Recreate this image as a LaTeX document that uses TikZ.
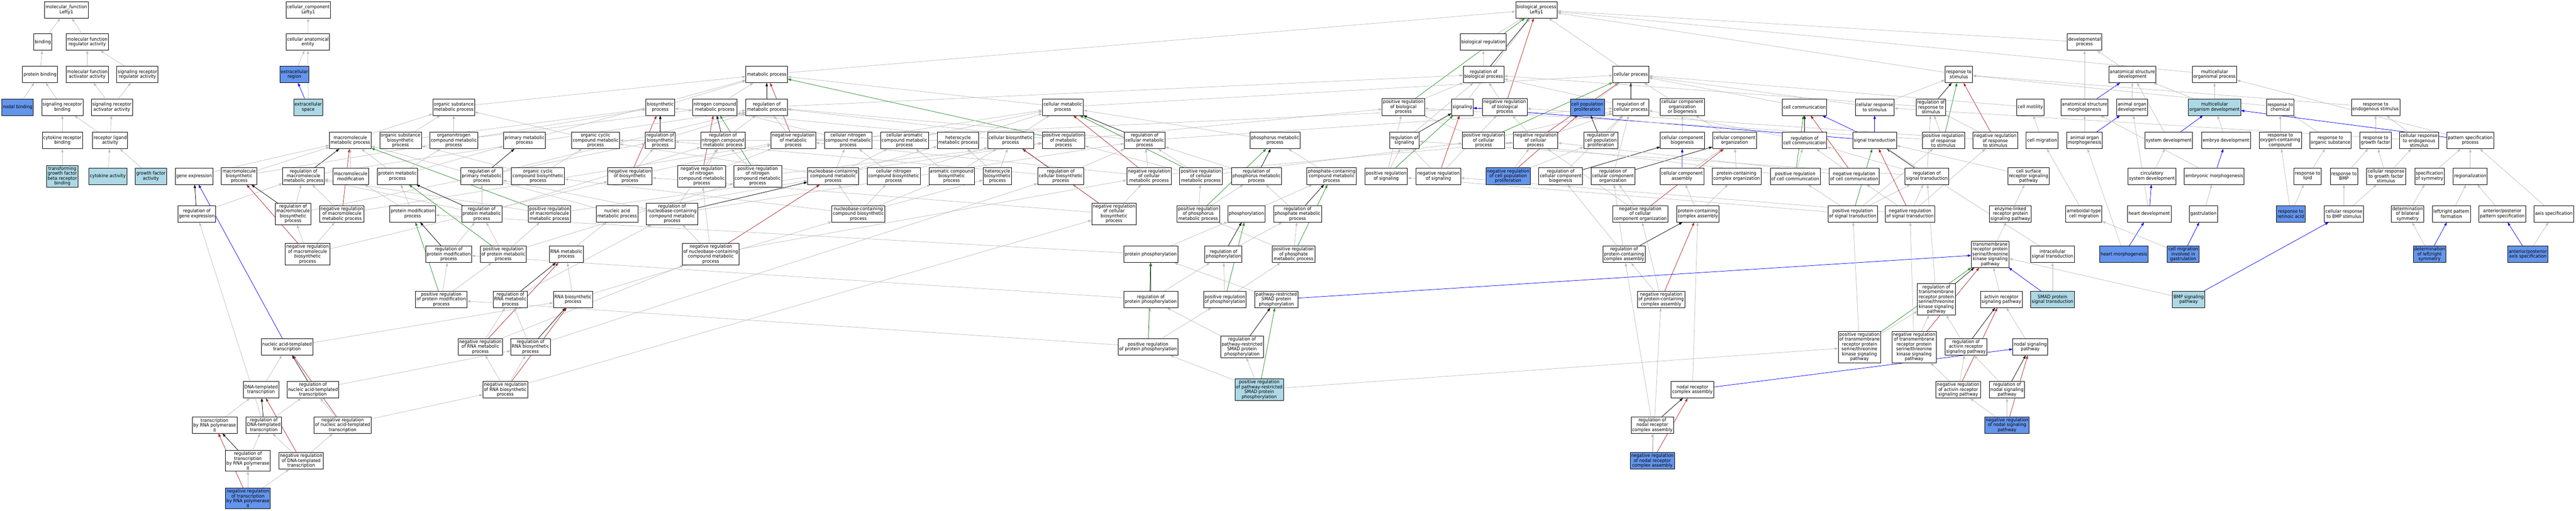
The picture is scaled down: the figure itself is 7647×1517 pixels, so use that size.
\documentclass[tikz,border=0pt]{standalone}
\usepackage{fontspec}
\setmainfont{DejaVu Sans}[FakeStretch=0.92]
\usetikzlibrary{arrows.meta}
\definecolor{hitblue}{HTML}{6495ED}
\definecolor{annblue}{HTML}{ADD8E6}
\definecolor{edgegray}{HTML}{BEBEBE}
\definecolor{negred}{HTML}{B22222}
\definecolor{posgreen}{HTML}{228B22}
\pgfdeclarelayer{background}
\pgfsetlayers{background,main}
\begin{document}
\begin{tikzpicture}[x=1pt, y=-1pt,
% common options for the term boxes:
term/.style = {draw, line width=1.2pt, fill=white, align=center,
            font=\fontsize{14}{14.5}\selectfont, minimum height=49pt,
            inner xsep=3pt, inner ysep=3.5pt},
hit/.style = {term, fill=hitblue},
ann/.style = {term, fill=annblue},
% common options for the relations:
isa/.style = {-{Triangle[length=10pt,width=7pt]}, draw=edgegray, fill=edgegray, line width=1.1pt},
reg/.style = {isa, draw=black, fill=black},
negreg/.style = {isa, draw=negred, fill=negred},
posreg/.style = {isa, draw=posgreen, fill=posgreen},
partof/.style = {isa, draw=blue, fill=blue}]
\useasboundingbox (0,0) rectangle (7647,1517);
% molecular function
\node[term] (mf) at (197,29) {molecular\_function\\Lefty1};
\node[term] (bind) at (127,125) {binding};
\node[term] (mfreg) at (259,125) {molecular function\\regulator activity};
\node[term] (pbind) at (119,221) {protein binding};
\node[term] (mfact) at (259,221) {molecular function\\activator activity};
\node[term] (srreg) at (408,221) {signaling receptor\\regulator activity};
\node[hit] (nodalb) at (52,318) {nodal binding};
\node[term] (srbind) at (185,318) {signaling receptor\\binding};
\node[term] (sract) at (332,318) {signaling receptor\\activator activity};
\node[term] (cytrb) at (185,417) {cytokine receptor\\binding};
\node[term] (rlig) at (327,417) {receptor ligand\\activity};
\node[ann] (tgfb) at (185,523) {transforming\\growth factor\\beta receptor\\binding};
\node[ann] (cytact) at (320,523) {cytokine activity};
\node[ann] (gfact) at (448,523) {growth factor\\activity};
% cellular component
\node[term] (cc) at (915,29) {cellular\_component\\Lefty1};
\node[term] (cae) at (914,125) {cellular anatomical\\entity};
\node[hit] (exreg) at (874,221) {extracellular\\region};
\node[ann] (exsp) at (915,318) {extracellular\\space};
% biological process, upper rows
\node[term] (bp) at (4561,29) {biological\_process\\Lefty1};
\node[term] (bioreg) at (4403,125) {biological regulation};
\node[term] (devp) at (6188,125) {developmental\\process};
\node[term] (metab) at (2276,221) {metabolic process};
\node[term] (regbp) at (4404,221) {regulation of\\biological process};
\node[term] (cellp) at (4841,221) {cellular process};
\node[term] (resp) at (5815,221) {response to\\stimulus};
\node[term] (asdev) at (6330,221) {anatomical structure\\development};
\node[term] (mcop) at (6574,221) {multicellular\\organismal process};
\node[term] (osmp) at (1347,318) {organic substance\\metabolic process};
\node[term] (biosyn) at (1960,318) {biosynthetic\\process};
\node[term] (ncmp) at (2122,318) {nitrogen compound\\metabolic process};
\node[term] (regmp) at (2276,318) {regulation of\\metabolic process};
\node[term] (cmp) at (3155,318) {cellular metabolic\\process};
\node[term] (pregbp) at (4166,318) {positive regulation\\of biological\\process};
\node[term] (signal) at (4341,318) {signaling};
\node[term] (nregbp) at (4467,318) {negative regulation\\of biological\\process};
\node[hit] (cpp) at (4712,318) {cell population\\proliferation};
\node[term] (regcp) at (4841,318) {regulation of\\cellular process};
\node[term] (ccob) at (4994,318) {cellular component\\organization\\or biogenesis};
\node[term] (ccomm) at (5357,318) {cell communication};
\node[term] (crs) at (5565,318) {cellular response\\to stimulus};
\node[term] (regrs) at (5732,318) {regulation of\\response to\\stimulus};
\node[term] (cmot) at (6027,318) {cell motility};
\node[term] (asm) at (6188,318) {anatomical structure\\morphogenesis};
\node[term] (aod) at (6329,318) {animal organ\\development};
\node[ann] (mod) at (6574,318) {multicellular\\organism development};
\node[term] (rchem) at (6769,318) {response to\\chemical};
\node[term] (rendo) at (7052,318) {response to\\endogenous stimulus};
\node[term] (mmp) at (1040,417) {macromolecule\\metabolic process};
\node[term] (osbp) at (1189,417) {organic substance\\biosynthetic\\process};
\node[term] (oncmp) at (1347,417) {organonitrogen\\compound metabolic\\process};
\node[term] (pmp) at (1557,417) {primary metabolic\\process};
\node[term] (occmp) at (1768,417) {organic cyclic\\compound metabolic\\process};
\node[term] (regbs) at (1960,417) {regulation of\\biosynthetic\\process};
\node[term] (regncmp) at (2146,417) {regulation of\\nitrogen compound\\metabolic process};
\node[term] (nregmp) at (2355,417) {negative regulation\\of metabolic\\process};
\node[term] (cncmp) at (2518,417) {cellular nitrogen\\compound metabolic\\process};
\node[term] (cacmp) at (2685,417) {cellular aromatic\\compound metabolic\\process};
\node[term] (hetmp) at (2844,417) {heterocycle\\metabolic process};
\node[term] (cbp) at (3000,417) {cellular biosynthetic\\process};
\node[term] (pregmp) at (3157,417) {positive regulation\\of metabolic\\process};
\node[term] (regcmp) at (3398,417) {regulation of\\cellular metabolic\\process};
\node[term] (phmp) at (3785,417) {phosphorus metabolic\\process};
\node[term] (regsig) at (4169,417) {regulation of\\signaling};
\node[term] (pregcp) at (4404,417) {positive regulation\\of cellular\\process};
\node[term] (nregcp) at (4558,417) {negative regulation\\of cellular\\process};
\node[term] (regcpp) at (4752,417) {regulation of\\cell population\\proliferation};
\node[term] (ccb) at (4994,417) {cellular component\\biogenesis};
\node[term] (cco) at (5149,417) {cellular component\\organization};
\node[term] (regcc) at (5357,417) {regulation of\\cell communication};
\node[term] (sigtr) at (5565,417) {signal transduction};
\node[term] (pregrs) at (5769,417) {positive regulation\\of response\\to stimulus};
\node[term] (nregrs) at (5923,417) {negative regulation\\of response\\to stimulus};
\node[term] (cmig) at (6062,417) {cell migration};
\node[term] (aom) at (6188,417) {animal organ\\morphogenesis};
\node[term] (sysdev) at (6438,417) {system development};
\node[term] (embdev) at (6608,417) {embryo development};
\node[term] (roxy) at (6769,417) {response to\\oxygen-containing\\compound};
\node[term] (rorg) at (6918,417) {response to\\organic substance};
\node[term] (rgf) at (7052,417) {response to\\growth factor};
\node[term] (crendo) at (7181,417) {cellular response\\to endogenous\\stimulus};
\node[term] (patsp) at (7333,417) {pattern specification\\process};
% middle rows
\node[term] (gexp) at (576,523) {gene expression};
\node[term] (mbp) at (710,523) {macromolecule\\biosynthetic\\process};
\node[term] (regmmp) at (901,523) {regulation of\\macromolecule\\metabolic process};
\node[term] (mmod) at (1041,523) {macromolecule\\modification};
\node[term] (protmp) at (1180,523) {protein metabolic\\process};
\node[term] (regpmp) at (1430,523) {regulation of\\primary metabolic\\process};
\node[term] (occbp) at (1597,523) {organic cyclic\\compound biosynthetic\\process};
\node[term] (nregbs) at (1870,523) {negative regulation\\of biosynthetic\\process};
\node[term] (nregncmp) at (2083,523) {negative regulation\\of nitrogen\\compound metabolic\\process};
\node[term] (pregncmp) at (2249,523) {positive regulation\\of nitrogen\\compound metabolic\\process};
\node[term] (nccmp) at (2473,523) {nucleobase-containing\\compound metabolic\\process};
\node[term] (cncbp) at (2653,523) {cellular nitrogen\\compound biosynthetic\\process};
\node[term] (acbp) at (2825,523) {aromatic compound\\biosynthetic\\process};
\node[term] (hetbp) at (2961,523) {heterocycle\\biosynthetic\\process};
\node[term] (regcbp) at (3149,523) {regulation of\\cellular biosynthetic\\process};
\node[term] (nregcmp) at (3411,523) {negative regulation\\of cellular\\metabolic process};
\node[term] (pregcmp) at (3565,523) {positive regulation\\of cellular\\metabolic process};
\node[term] (regphmp) at (3730,523) {regulation of\\phosphorus metabolic\\process};
\node[term] (pccmp) at (3953,523) {phosphate-containing\\compound metabolic\\process};
\node[term] (pregsig) at (4115,523) {positive regulation\\of signaling};
\node[term] (nregsig) at (4270,523) {negative regulation\\of signaling};
\node[hit] (nregcpp) at (4477,523) {negative regulation\\of cell population\\proliferation};
\node[term] (regccb) at (4633,523) {regulation of\\cellular component\\biogenesis};
\node[term] (regcco) at (4788,523) {regulation of\\cellular component\\organization};
\node[term] (cca) at (4993,523) {cellular component\\assembly};
\node[term] (pcco) at (5155,523) {protein-containing\\complex organization};
\node[term] (pregcc) at (5329,523) {positive regulation\\of cell communication};
\node[term] (nregcc) at (5504,523) {negative regulation\\of cell communication};
\node[term] (regst) at (5720,523) {regulation of\\signal transduction};
\node[term] (csrsp) at (6022,523) {cell surface\\receptor signaling\\pathway};
\node[term] (csdev) at (6388,523) {circulatory\\system development};
\node[term] (embm) at (6573,523) {embryonic morphogenesis};
\node[term] (rlip) at (6850,523) {response to\\lipid};
\node[term] (rbmp) at (6958,523) {response to\\BMP};
\node[term] (crgf) at (7083,523) {cellular response\\to growth factor\\stimulus};
\node[term] (specsym) at (7212,523) {specification\\of symmetry};
\node[term] (regio) at (7333,523) {regionalization};
\node[term] (reggexp) at (584,635) {regulation of\\gene expression};
\node[term] (regmbp) at (870,635) {regulation of\\macromolecule\\biosynthetic\\process};
\node[term] (nregmmp) at (1015,635) {negative regulation\\of macromolecule\\metabolic process};
\node[term] (protmod) at (1225,635) {protein modification\\process};
\node[term] (regprotmp) at (1430,635) {regulation of\\protein metabolic\\process};
\node[term] (pregmmp) at (1631,635) {positive regulation\\of macromolecule\\metabolic process};
\node[term] (nacmp) at (1832,635) {nucleic acid\\metabolic process};
\node[term] (regnccmp) at (1995,635) {regulation of\\nucleobase-containing\\compound metabolic\\process};
\node[term] (nccbp) at (2548,635) {nucleobase-containing\\compound biosynthetic\\process};
\node[term] (nregcbp) at (3307,635) {negative regulation\\of cellular\\biosynthetic\\process};
\node[term] (pregphmp) at (3557,635) {positive regulation\\of phosphorus\\metabolic process};
\node[term] (phos) at (3700,635) {phosphorylation};
\node[term] (regpamp) at (3852,635) {regulation of\\phosphate metabolic\\process};
\node[term] (nregcco) at (4869,635) {negative regulation\\of cellular\\component organization};
\node[term] (pcca) at (5040,635) {protein-containing\\complex assembly};
\node[term] (pregst) at (5500,635) {positive regulation\\of signal transduction};
\node[term] (nregst) at (5670,635) {negative regulation\\of signal transduction};
\node[term] (elrpsp) at (5968,635) {enzyme-linked\\receptor protein\\signaling pathway};
\node[term] (amig) at (6186,635) {ameboidal-type\\cell migration};
\node[term] (heartdev) at (6380,635) {heart development};
\node[term] (gastr) at (6541,635) {gastrulation};
\node[hit] (rra) at (6800,635) {response to\\retinoic acid};
\node[term] (crbmp) at (6958,635) {cellular response\\to BMP stimulus};
\node[term] (detbs) at (7147,635) {determination\\of bilateral\\symmetry};
\node[term] (lrpf) at (7277,635) {left/right pattern\\formation};
\node[term] (appsp) at (7428,635) {anterior/posterior\\pattern specification};
\node[term] (axsp) at (7581,635) {axis specification};
\node[term] (nregmbp) at (913,755) {negative regulation\\of macromolecule\\biosynthetic\\process};
\node[term] (regprotmod) at (1332,755) {regulation of\\protein modification\\process};
\node[term] (pregprotmp) at (1494,755) {positive regulation\\of protein metabolic\\process};
\node[term] (rnamp) at (1681,755) {RNA metabolic\\process};
\node[term] (nregnccmp) at (2110,755) {negative regulation\\of nucleobase-containing\\compound metabolic\\process};
\node[term] (protphos) at (3416,755) {protein phosphorylation};
\node[term] (regphos) at (3632,755) {regulation of\\phosphorylation};
\node[term] (pregpamp) at (3840,755) {positive regulation\\of phosphate\\metabolic process};
\node[term] (regpcca) at (4821,755) {regulation of\\protein-containing\\complex assembly};
\node[term] (trpstk) at (5908,755) {transmembrane\\receptor protein\\serine/threonine\\kinase signaling\\pathway};
\node[term] (intrast) at (6093,755) {intracellular\\signal transduction};
\node[hit] (heartm) at (6305,755) {heart morphogenesis};
\node[hit] (cmigg) at (6481,755) {cell migration\\involved in\\gastrulation};
\node[hit] (detlr) at (7212,755) {determination\\of left/right\\symmetry};
\node[hit] (apas) at (7504,755) {anterior/posterior\\axis specification};
% lower rows
\node[term] (pregprotmod) at (1310,889) {positive regulation\\of protein modification\\process};
\node[term] (regrnamp) at (1515,889) {regulation of\\RNA metabolic\\process};
\node[term] (rnabp) at (1701,889) {RNA biosynthetic\\process};
\node[term] (regprotphos) at (3416,889) {regulation of\\protein phosphorylation};
\node[term] (pregphos) at (3636,889) {positive regulation\\of phosphorylation};
\node[term] (smadphos) at (3789,889) {pathway-restricted\\SMAD protein\\phosphorylation};
\node[term] (nregpcca) at (4931,889) {negative regulation\\of protein-containing\\complex assembly};
\node[term] (regtrpstk) at (5748,889) {regulation of\\transmembrane\\receptor protein\\serine/threonine\\kinase signaling\\pathway};
\node[term] (arsp) at (5941,889) {activin receptor\\signaling pathway};
\node[ann] (smadst) at (6093,889) {SMAD protein\\signal transduction};
\node[ann] (bmpsp) at (6497,889) {BMP signaling\\pathway};
\node[term] (natt) at (852,1030) {nucleic acid-templated\\transcription};
\node[term] (nregrnamp) at (1426,1030) {negative regulation\\of RNA metabolic\\process};
\node[term] (regrnabp) at (1575,1030) {regulation of\\RNA biosynthetic\\process};
\node[term] (pregprotphos) at (3408,1030) {positive regulation\\of protein phosphorylation};
\node[term] (regsmadphos) at (3687,1030) {regulation of\\pathway-restricted\\SMAD protein\\phosphorylation};
\node[term] (pregtrpstk) at (5520,1030) {positive regulation\\of transmembrane\\receptor protein\\serine/threonine\\kinase signaling\\pathway};
\node[term] (nregtrpstk) at (5682,1030) {negative regulation\\of transmembrane\\receptor protein\\serine/threonine\\kinase signaling\\pathway};
\node[term] (regarsp) at (5836,1030) {regulation of\\activin receptor\\signaling pathway};
\node[term] (nodalsp) at (6027,1030) {nodal signaling\\pathway};
\node[term] (dnatt) at (775,1157) {DNA-templated\\transcription};
\node[term] (regnatt) at (929,1157) {regulation of\\nucleic acid-templated\\transcription};
\node[term] (nregrnabp) at (1500,1157) {negative regulation\\of RNA biosynthetic\\process};
\node[ann] (pregsmadphos) at (3738,1157) {positive regulation\\of pathway-restricted\\SMAD protein\\phosphorylation};
\node[term] (nrca) at (5024,1157) {nodal receptor\\complex assembly};
\node[term] (nregarsp) at (5813,1157) {negative regulation\\of activin receptor\\signaling pathway};
\node[term] (regnodal) at (5958,1157) {regulation of\\nodal signaling\\pathway};
\node[term] (trpol) at (637,1262) {transcription\\by RNA polymerase\\II};
\node[term] (regdnatt) at (783,1262) {regulation of\\DNA-templated\\transcription};
\node[term] (nregnatt) at (1017,1262) {negative regulation\\of nucleic acid-templated\\transcription};
\node[term] (regnrca) at (4905,1262) {regulation of\\nodal receptor\\complex assembly};
\node[hit] (nregnodal) at (5958,1262) {negative regulation\\of nodal signaling\\pathway};
\node[term] (regtrpol) at (736,1368) {regulation of\\transcription\\by RNA polymerase\\II};
\node[term] (nregdnatt) at (894,1368) {negative regulation\\of DNA-templated\\transcription};
\node[hit] (nregnrca) at (4905,1368) {negative regulation\\of nodal receptor\\complex assembly};
\node[hit] (nregtrpol) at (736,1480) {negative regulation\\of transcription\\by RNA polymerase\\II};
\begin{pgfonlayer}{background}
% molecular function and cellular component
\draw[isa] (bind) to (mf);
\draw[isa] (mfreg) to (mf);
\draw[isa] (pbind) to (bind);
\draw[isa] (mfact) to (mfreg);
\draw[isa] (srreg) to (mfreg);
\draw[isa] (nodalb) to (pbind);
\draw[isa] (srbind) to (pbind);
\draw[isa] (sract) to (mfact);
\draw[isa] (sract) to (srreg);
\draw[isa] (cytrb) to (srbind);
\draw[isa] (rlig) to (srbind);
\draw[isa] (rlig) to (sract);
\draw[isa] (tgfb) to (cytrb);
\draw[isa] (cytact) to (rlig);
\draw[isa] (gfact) to (rlig);
\draw[isa] (cae) to (cc);
\draw[isa] (exreg) to (cae);
\draw[partof] (exsp) to (exreg);
\draw[isa] (exsp) to (cae);
% top of biological process
\draw[isa] (bioreg) to (bp);
\draw[isa] (regbp) to (bioreg);
\draw[reg] (regbp) to (bp);
\draw[isa] (pregbp) to (regbp);
\draw[posreg] (pregbp) to (bp);
\draw[isa] (nregbp) to (regbp);
\draw[negreg] (nregbp) to (bp);
\draw[isa] (cellp) to (bp);
\draw[isa] (metab) to (bp);
\draw[isa] (signal) to (bp);
\draw[isa] (resp) to (bp);
\draw[isa] (devp) to (bp);
\draw[isa] (mcop) to (bp);
\draw[isa] (regcp) to (regbp);
\draw[reg] (regcp) to (cellp);
\draw[isa] (pregcp) to (regcp);
\draw[isa] (pregcp) to (pregbp);
\draw[posreg] (pregcp) to (cellp);
\draw[isa] (nregcp) to (regcp);
\draw[isa] (nregcp) to (nregbp);
\draw[negreg] (nregcp) to (cellp);
\draw[isa] (cpp) to (cellp);
\draw[isa] (regcpp) to (regcp);
\draw[reg] (regcpp) to (cpp);
\draw[isa] (nregcpp) to (regcpp);
\draw[isa] (nregcpp) to (nregcp);
\draw[negreg] (nregcpp) to (cpp);
% cellular component organization
\draw[isa] (ccob) to (cellp);
\draw[isa] (ccb) to (ccob);
\draw[isa] (cco) to (ccob);
\draw[partof] (cca) to (ccb);
\draw[isa] (cca) to (cco);
\draw[isa] (regccb) to (regcp);
\draw[reg] (regccb) to (ccb);
\draw[isa] (regcco) to (regcp);
\draw[reg] (regcco) to (cco);
\draw[isa] (nregcco) to (regcco);
\draw[isa] (nregcco) to (nregcp);
\draw[negreg] (nregcco) to (cco);
\draw[isa] (pcco) to (cco);
\draw[isa] (pcca) to (pcco);
\draw[isa] (pcca) to (cca);
\draw[isa] (regpcca) to (regccb);
\draw[isa] (regpcca) to (regcco);
\draw[reg] (regpcca) to (pcca);
\draw[isa] (nregpcca) to (regpcca);
\draw[isa] (nregpcca) to (nregcco);
\draw[negreg] (nregpcca) to (pcca);
\draw[isa] (nrca) to (pcca);
\draw[partof] (nrca) to (nodalsp);
\draw[isa] (regnrca) to (regpcca);
\draw[reg] (regnrca) to (nrca);
\draw[isa] (nregnrca) to (regnrca);
\draw[isa] (nregnrca) to (nregpcca);
\draw[negreg] (nregnrca) to (nrca);
% metabolism
\draw[isa] (regmp) to (regbp);
\draw[reg] (regmp) to (metab);
\draw[isa] (nregmp) to (regmp);
\draw[isa] (nregmp) to (nregbp);
\draw[negreg] (nregmp) to (metab);
\draw[isa] (pregmp) to (regmp);
\draw[isa] (pregmp) to (pregbp);
\draw[posreg] (pregmp) to (metab);
\draw[isa] (osmp) to (metab);
\draw[isa] (biosyn) to (metab);
\draw[isa] (ncmp) to (metab);
\draw[isa] (pmp) to (metab);
\draw[isa] (cmp) to (metab);
\draw[isa] (cmp) to (cellp);
\draw[isa] (mmp) to (osmp);
\draw[isa] (osbp) to (osmp);
\draw[isa] (osbp) to (biosyn);
\draw[isa] (oncmp) to (osmp);
\draw[isa] (oncmp) to (ncmp);
\draw[isa] (occmp) to (osmp);
\draw[isa] (regbs) to (regmp);
\draw[reg] (regbs) to (biosyn);
\draw[isa] (regncmp) to (regmp);
\draw[reg] (regncmp) to (ncmp);
\draw[isa] (nregbs) to (regbs);
\draw[isa] (nregbs) to (nregmp);
\draw[negreg] (nregbs) to (biosyn);
\draw[isa] (nregncmp) to (regncmp);
\draw[isa] (nregncmp) to (nregmp);
\draw[negreg] (nregncmp) to (ncmp);
\draw[isa] (pregncmp) to (regncmp);
\draw[isa] (pregncmp) to (pregmp);
\draw[posreg] (pregncmp) to (ncmp);
\draw[isa] (regpmp) to (regmp);
\draw[reg] (regpmp) to (pmp);
\draw[isa] (regmmp) to (regmp);
\draw[reg] (regmmp) to (mmp);
\draw[isa] (nregmmp) to (regmmp);
\draw[isa] (nregmmp) to (nregmp);
\draw[negreg] (nregmmp) to (mmp);
\draw[isa] (pregmmp) to (regmmp);
\draw[isa] (pregmmp) to (pregmp);
\draw[posreg] (pregmmp) to (mmp);
\draw[isa] (mbp) to (mmp);
\draw[isa] (mbp) to (biosyn);
\draw[isa] (mmod) to (mmp);
\draw[isa] (protmp) to (mmp);
\draw[isa] (protmp) to (oncmp);
\draw[isa] (protmp) to (pmp);
\draw[isa] (protmod) to (mmod);
\draw[isa] (protmod) to (protmp);
\draw[isa] (gexp) to (mmp);
\draw[isa] (reggexp) to (regmmp);
\draw[reg] (reggexp) to (gexp);
\draw[isa] (regmbp) to (regmmp);
\draw[isa] (regmbp) to (regbs);
\draw[reg] (regmbp) to (mbp);
\draw[isa] (nregmbp) to (regmbp);
\draw[isa] (nregmbp) to (nregmmp);
\draw[isa] (nregmbp) to (nregbs);
\draw[negreg] (nregmbp) to (mbp);
\draw[isa] (regprotmp) to (regmmp);
\draw[isa] (regprotmp) to (regpmp);
\draw[isa] (regprotmp) to (regncmp);
\draw[reg] (regprotmp) to (protmp);
\draw[isa] (pregprotmp) to (regprotmp);
\draw[isa] (pregprotmp) to (pregmmp);
\draw[isa] (pregprotmp) to (pregncmp);
\draw[posreg] (pregprotmp) to (protmp);
\draw[isa] (regprotmod) to (regprotmp);
\draw[reg] (regprotmod) to (protmod);
\draw[isa] (pregprotmod) to (regprotmod);
\draw[isa] (pregprotmod) to (pregprotmp);
\draw[posreg] (pregprotmod) to (protmod);
\draw[isa] (occbp) to (occmp);
\draw[isa] (occbp) to (osbp);
\draw[isa] (cncmp) to (ncmp);
\draw[isa] (cncmp) to (cmp);
\draw[isa] (cacmp) to (cmp);
\draw[isa] (hetmp) to (cmp);
\draw[isa] (hetmp) to (occmp);
\draw[isa] (cbp) to (biosyn);
\draw[isa] (cbp) to (cmp);
\draw[isa] (regcmp) to (regmp);
\draw[isa] (regcmp) to (regcp);
\draw[reg] (regcmp) to (cmp);
\draw[isa] (pregcmp) to (regcmp);
\draw[isa] (pregcmp) to (pregmp);
\draw[isa] (pregcmp) to (pregcp);
\draw[posreg] (pregcmp) to (cmp);
\draw[isa] (nregcmp) to (regcmp);
\draw[isa] (nregcmp) to (nregmp);
\draw[isa] (nregcmp) to (nregcp);
\draw[negreg] (nregcmp) to (cmp);
\draw[isa] (regcbp) to (regbs);
\draw[isa] (regcbp) to (regcmp);
\draw[reg] (regcbp) to (cbp);
\draw[isa] (nregcbp) to (regcbp);
\draw[isa] (nregcbp) to (nregbs);
\draw[isa] (nregcbp) to (nregcmp);
\draw[negreg] (nregcbp) to (cbp);
\draw[isa] (nccmp) to (cncmp);
\draw[isa] (nccmp) to (cacmp);
\draw[isa] (nccmp) to (hetmp);
\draw[isa] (nccmp) to (occmp);
\draw[isa] (cncbp) to (cncmp);
\draw[isa] (cncbp) to (cbp);
\draw[isa] (acbp) to (cacmp);
\draw[isa] (acbp) to (cbp);
\draw[isa] (hetbp) to (hetmp);
\draw[isa] (hetbp) to (cbp);
\draw[isa] (nccbp) to (nccmp);
\draw[isa] (nccbp) to (cncbp);
\draw[isa] (nccbp) to (acbp);
\draw[isa] (nccbp) to (hetbp);
\draw[isa] (nccbp) to (occbp);
\draw[isa] (nacmp) to (nccmp);
\draw[isa] (nacmp) to (mmp);
\draw[isa] (regnccmp) to (regcmp);
\draw[isa] (regnccmp) to (regncmp);
\draw[isa] (regnccmp) to (regpmp);
\draw[reg] (regnccmp) to (nccmp);
\draw[isa] (nregnccmp) to (regnccmp);
\draw[isa] (nregnccmp) to (nregcmp);
\draw[isa] (nregnccmp) to (nregncmp);
\draw[negreg] (nregnccmp) to (nccmp);
% RNA and transcription
\draw[isa] (rnamp) to (nacmp);
\draw[isa] (rnabp) to (rnamp);
\draw[isa] (rnabp) to (nccbp);
\draw[isa] (regrnamp) to (regnccmp);
\draw[reg] (regrnamp) to (rnamp);
\draw[isa] (nregrnamp) to (regrnamp);
\draw[isa] (nregrnamp) to (nregnccmp);
\draw[negreg] (nregrnamp) to (rnamp);
\draw[isa] (regrnabp) to (regrnamp);
\draw[isa] (regrnabp) to (regcbp);
\draw[reg] (regrnabp) to (rnabp);
\draw[isa] (nregrnabp) to (regrnabp);
\draw[isa] (nregrnabp) to (nregrnamp);
\draw[isa] (nregrnabp) to (nregcbp);
\draw[negreg] (nregrnabp) to (rnabp);
\draw[isa] (natt) to (rnabp);
\draw[partof] (natt) to (gexp);
\draw[isa] (dnatt) to (natt);
\draw[isa] (regnatt) to (regrnabp);
\draw[reg] (regnatt) to (natt);
\draw[isa] (trpol) to (dnatt);
\draw[isa] (regdnatt) to (regnatt);
\draw[isa] (regdnatt) to (reggexp);
\draw[reg] (regdnatt) to (dnatt);
\draw[isa] (nregnatt) to (regnatt);
\draw[isa] (nregnatt) to (nregrnabp);
\draw[negreg] (nregnatt) to (natt);
\draw[isa] (regtrpol) to (regdnatt);
\draw[reg] (regtrpol) to (trpol);
\draw[isa] (nregdnatt) to (regdnatt);
\draw[isa] (nregdnatt) to (nregnatt);
\draw[negreg] (nregdnatt) to (dnatt);
\draw[isa] (nregtrpol) to (regtrpol);
\draw[isa] (nregtrpol) to (nregdnatt);
\draw[negreg] (nregtrpol) to (trpol);
% phosphorus metabolism
\draw[isa] (phmp) to (cmp);
\draw[isa] (regphmp) to (regcmp);
\draw[reg] (regphmp) to (phmp);
\draw[isa] (pregphmp) to (regphmp);
\draw[isa] (pregphmp) to (pregcmp);
\draw[posreg] (pregphmp) to (phmp);
\draw[isa] (pccmp) to (phmp);
\draw[isa] (regpamp) to (regphmp);
\draw[reg] (regpamp) to (pccmp);
\draw[isa] (pregpamp) to (regpamp);
\draw[isa] (pregpamp) to (pregphmp);
\draw[posreg] (pregpamp) to (pccmp);
\draw[isa] (phos) to (pccmp);
\draw[isa] (protphos) to (phos);
\draw[isa] (protphos) to (protmod);
\draw[isa] (regphos) to (regpamp);
\draw[reg] (regphos) to (phos);
\draw[isa] (pregphos) to (regphos);
\draw[isa] (pregphos) to (pregpamp);
\draw[posreg] (pregphos) to (phos);
\draw[isa] (regprotphos) to (regphos);
\draw[isa] (regprotphos) to (regprotmod);
\draw[reg] (regprotphos) to (protphos);
\draw[isa] (pregprotphos) to (regprotphos);
\draw[isa] (pregprotphos) to (pregphos);
\draw[isa] (pregprotphos) to (pregprotmod);
\draw[posreg] (pregprotphos) to (protphos);
\draw[isa] (smadphos) to (protphos);
\draw[partof] (smadphos) to (trpstk);
\draw[isa] (regsmadphos) to (regprotphos);
\draw[reg] (regsmadphos) to (smadphos);
\draw[isa] (pregsmadphos) to (regsmadphos);
\draw[isa] (pregsmadphos) to (pregprotphos);
\draw[posreg] (pregsmadphos) to (smadphos);
\draw[isa] (pregsmadphos) to (pregtrpstk);
% signaling
\draw[isa] (regsig) to (regbp);
\draw[reg] (regsig) to (signal);
\draw[isa] (pregsig) to (regsig);
\draw[isa] (pregsig) to (pregbp);
\draw[posreg] (pregsig) to (signal);
\draw[isa] (nregsig) to (regsig);
\draw[isa] (nregsig) to (nregbp);
\draw[negreg] (nregsig) to (signal);
\draw[isa] (ccomm) to (cellp);
\draw[isa] (regcc) to (regcp);
\draw[reg] (regcc) to (ccomm);
\draw[isa] (pregcc) to (regcc);
\draw[isa] (pregcc) to (pregcp);
\draw[posreg] (pregcc) to (ccomm);
\draw[isa] (nregcc) to (regcc);
\draw[isa] (nregcc) to (nregcp);
\draw[negreg] (nregcc) to (ccomm);
\draw[partof] (sigtr) to (crs);
\draw[partof] (sigtr) to (ccomm);
\draw[partof] (sigtr) to (signal);
\draw[isa] (regst) to (regsig);
\draw[isa] (regst) to (regcc);
\draw[isa] (regst) to (regrs);
\draw[reg] (regst) to (sigtr);
\draw[isa] (pregst) to (regst);
\draw[isa] (pregst) to (pregsig);
\draw[isa] (pregst) to (pregcc);
\draw[isa] (pregst) to (pregrs);
\draw[posreg] (pregst) to (sigtr);
\draw[isa] (nregst) to (regst);
\draw[isa] (nregst) to (nregsig);
\draw[isa] (nregst) to (nregcc);
\draw[isa] (nregst) to (nregrs);
\draw[negreg] (nregst) to (sigtr);
\draw[isa] (crs) to (resp);
\draw[isa] (crs) to (cellp);
\draw[isa] (regrs) to (regbp);
\draw[reg] (regrs) to (resp);
\draw[isa] (pregrs) to (regrs);
\draw[isa] (pregrs) to (pregbp);
\draw[posreg] (pregrs) to (resp);
\draw[isa] (nregrs) to (regrs);
\draw[isa] (nregrs) to (nregbp);
\draw[negreg] (nregrs) to (resp);
\draw[isa] (csrsp) to (sigtr);
\draw[isa] (elrpsp) to (csrsp);
\draw[isa] (trpstk) to (elrpsp);
\draw[isa] (intrast) to (sigtr);
\draw[partof] (smadst) to (trpstk);
\draw[isa] (smadst) to (intrast);
\draw[isa] (regtrpstk) to (regst);
\draw[reg] (regtrpstk) to (trpstk);
\draw[isa] (pregtrpstk) to (regtrpstk);
\draw[isa] (pregtrpstk) to (pregst);
\draw[posreg] (pregtrpstk) to (trpstk);
\draw[isa] (nregtrpstk) to (regtrpstk);
\draw[isa] (nregtrpstk) to (nregst);
\draw[negreg] (nregtrpstk) to (trpstk);
\draw[isa] (arsp) to (trpstk);
\draw[isa] (regarsp) to (regtrpstk);
\draw[reg] (regarsp) to (arsp);
\draw[isa] (nodalsp) to (arsp);
\draw[isa] (nregarsp) to (regarsp);
\draw[isa] (nregarsp) to (nregtrpstk);
\draw[negreg] (nregarsp) to (arsp);
\draw[isa] (regnodal) to (regarsp);
\draw[reg] (regnodal) to (nodalsp);
\draw[isa] (nregnodal) to (regnodal);
\draw[isa] (nregnodal) to (nregarsp);
\draw[negreg] (nregnodal) to (nodalsp);
\draw[isa] (bmpsp) to (trpstk);
\draw[partof] (bmpsp) to (crbmp);
% development and responses
\draw[isa] (asdev) to (devp);
\draw[partof] (asm) to (asdev);
\draw[isa] (asm) to (devp);
\draw[isa] (aod) to (asdev);
\draw[isa] (mod) to (asdev);
\draw[isa] (mod) to (mcop);
\draw[partof] (sysdev) to (mod);
\draw[isa] (sysdev) to (asdev);
\draw[isa] (embdev) to (mod);
\draw[isa] (aom) to (asm);
\draw[partof] (aom) to (aod);
\draw[isa] (cmot) to (cellp);
\draw[isa] (cmig) to (cmot);
\draw[isa] (amig) to (cmig);
\draw[isa] (csdev) to (sysdev);
\draw[isa] (embm) to (asm);
\draw[partof] (embm) to (embdev);
\draw[isa] (heartdev) to (aod);
\draw[partof] (heartdev) to (csdev);
\draw[isa] (gastr) to (embm);
\draw[partof] (heartm) to (heartdev);
\draw[isa] (heartm) to (aom);
\draw[partof] (cmigg) to (gastr);
\draw[isa] (cmigg) to (amig);
\draw[isa] (rchem) to (resp);
\draw[isa] (rendo) to (resp);
\draw[isa] (roxy) to (rchem);
\draw[isa] (rorg) to (rchem);
\draw[isa] (rgf) to (rendo);
\draw[isa] (crendo) to (rendo);
\draw[isa] (crendo) to (crs);
\draw[isa] (patsp) to (mcop);
\draw[partof] (patsp) to (mod);
\draw[isa] (rlip) to (rorg);
\draw[isa] (rbmp) to (rgf);
\draw[isa] (crgf) to (rgf);
\draw[isa] (crgf) to (crendo);
\draw[isa] (specsym) to (patsp);
\draw[isa] (regio) to (patsp);
\draw[isa] (axsp) to (patsp);
\draw[isa] (rra) to (roxy);
\draw[isa] (rra) to (rlip);
\draw[isa] (crbmp) to (rbmp);
\draw[isa] (crbmp) to (crgf);
\draw[isa] (detbs) to (specsym);
\draw[isa] (lrpf) to (regio);
\draw[isa] (appsp) to (regio);
\draw[isa] (detlr) to (detbs);
\draw[partof] (detlr) to (lrpf);
\draw[partof] (apas) to (appsp);
\draw[isa] (apas) to (axsp);
\end{pgfonlayer}
\end{tikzpicture}
\end{document}
